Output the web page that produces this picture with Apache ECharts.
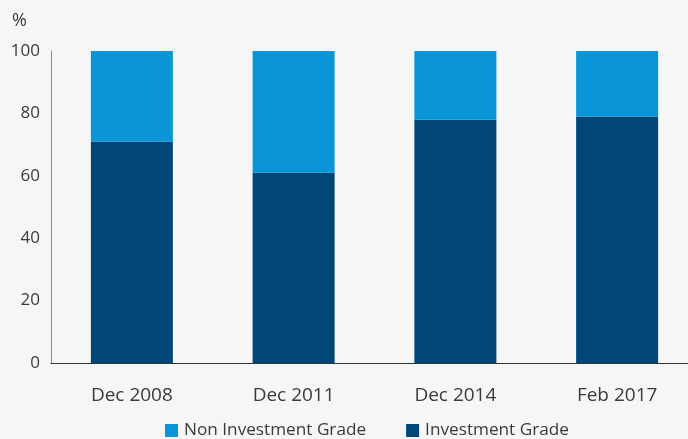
<!DOCTYPE html>
<html>
<head>
<meta charset="utf-8">
<script src="https://cdn.jsdelivr.net/npm/echarts@6/dist/echarts.min.js"></script>
<style>
  html, body { margin: 0; padding: 0; background: #f6f6f6; }
  #chart { width: 688px; height: 439px; }
</style>
</head>
<body>
<div id="chart"></div>
<script>
// data
const categories = ['Dec 2008', 'Dec 2011', 'Dec 2014', 'Feb 2017']
const investmentGrade = [71, 61, 78, 79]
const nonInvestmentGrade = [29, 39, 22, 21]
const yTicks = [0, 20, 40, 60, 80, 100]

const FONT = 'Open Sans'
const TEXT = '#3a3a3a'

const chart = echarts.init(document.getElementById('chart'))

const option = {
  backgroundColor: '#f6f6f6',
  textStyle: { fontFamily: FONT },
  grid: { left: 51, top: 51, width: 647, height: 312, outerBoundsMode: 'none', containLabel: false },
  graphic: [
    {
      type: 'text',
      left: 12,
      top: 12,
      style: { text: '%', fill: TEXT, fontSize: 18, fontFamily: FONT }
    }
  ],
  legend: {
    left: 165,
    top: 422,
    padding: 0,
    itemWidth: 13,
    itemHeight: 13,
    itemGap: 40,
    icon: 'rect',
    data: ['Non Investment Grade', 'Investment Grade'],
    textStyle: { color: TEXT, fontSize: 17.2, fontFamily: FONT, padding: [0, 0, 0, 1] }
  },
  xAxis: {
    type: 'category',
    data: categories,
    axisLine: { lineStyle: { color: '#333', width: 1 } },
    axisTick: { show: false },
    axisLabel: { color: TEXT, fontSize: 19, margin: 23, fontFamily: FONT }
  },
  yAxis: {
    type: 'value',
    min: yTicks[0],
    max: yTicks[yTicks.length - 1],
    interval: 20,
    splitLine: { show: false },
    axisLine: { show: true, lineStyle: { color: '#8c8c8c', width: 1 } },
    axisTick: { show: false },
    axisLabel: { color: TEXT, fontSize: 17, margin: 11, fontFamily: FONT }
  },
  series: [
    {
      name: 'Investment Grade',
      type: 'bar',
      stack: 'total',
      barWidth: 82,
      data: investmentGrade,
      itemStyle: { color: '#004677' }
    },
    {
      name: 'Non Investment Grade',
      type: 'bar',
      stack: 'total',
      barWidth: 82,
      data: nonInvestmentGrade,
      itemStyle: { color: '#0a95d6' }
    }
  ]
}

chart.setOption(option)
</script>
</body>
</html>
